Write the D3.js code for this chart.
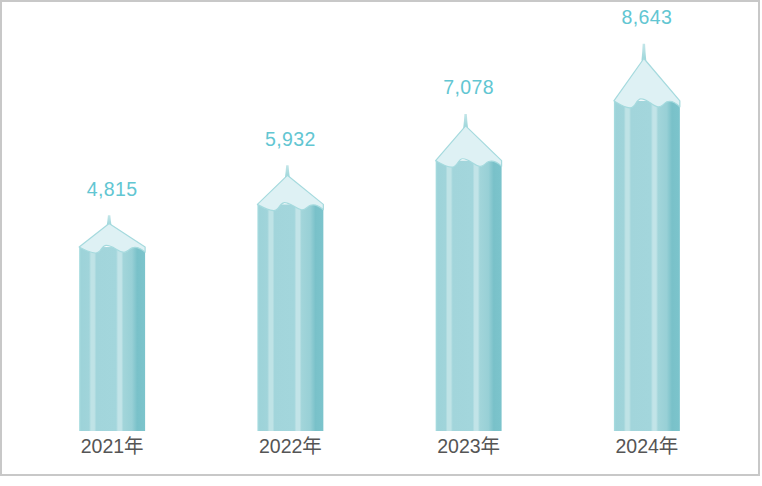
<!DOCTYPE html>
<html>
<head>
<meta charset="utf-8">
<script src="https://cdn.jsdelivr.net/npm/d3@7"></script>
<style>
html, body { margin: 0; padding: 0; background: #fff; }
svg { display: block; }
text { font-family: "Liberation Sans", "Noto Sans CJK SC", sans-serif; }
</style>
</head>
<body>
<div class="chart"></div>
<script>
var years = ["2021年", "2022年", "2023年", "2024年"],
    values = [4815, 5932, 7078, 8643];

var w = 762,
    h = 486,
    base = 431;

var x = d3.scaleBand().domain(years).range([23, 736]).paddingInner(0.63).paddingOuter(0.315),
    y = d3.scaleLinear().domain([0, 10000]).range([base, 49]);

var svg = d3.select(".chart").append("svg")
    .attr("width", w)
    .attr("height", h);

svg.append("rect")
    .attr("x", 1).attr("y", 1)
    .attr("width", 758).attr("height", 474)
    .attr("fill", "#fff")
    .attr("stroke", "#c8c8c8")
    .attr("stroke-width", 2);

// body of the pencil: soft stripes across the width
var defs = svg.append("defs");
var grad = defs.append("linearGradient").attr("id", "body");
[[0, "#a8dde0"], [0.03, "#9dd3d9"], [0.15, "#a0d4da"], [0.18, "#bfe3e6"], [0.23, "#bfe3e6"], [0.26, "#a2d5db"],
 [0.56, "#a3d6dc"], [0.59, "#c2e4e8"], [0.64, "#c2e4e8"], [0.67, "#a2d5da"], [0.8, "#98d0d6"], [0.88, "#79c1c9"], [1, "#7cc4cc"]]
  .forEach(function(s) { grad.append("stop").attr("offset", s[0]).attr("stop-color", s[1]); });

var spike = defs.append("linearGradient").attr("id", "spike").attr("x2", 0).attr("y2", 1);
spike.append("stop").attr("offset", 0).attr("stop-color", "#c4e6e9");
spike.append("stop").attr("offset", 1).attr("stop-color", "#9dd6da");

var bars = svg.selectAll(".bar").data(values).enter().append("g")
    .attr("class", "bar")
    .attr("transform", function(d, i) { return "translate(" + x(years[i]) + ",0)"; });

var bw = x.bandwidth();

bars.append("rect")
    .attr("x", 0)
    .attr("width", bw)
    .attr("y", function(d) { return y(d); })
    .attr("height", function(d) { return base - y(d); })
    .attr("fill", "url(#body)");

// the roof and spike grow with the value, apex sits a little left of centre
var apex = bw / 2 - 3;
function roofH(d) { return d * 0.0049; }
function spikeH(d) { return d * 0.0017; }

bars.append("path")
    .attr("d", function(d) {
      var t = y(d), a = t - roofH(d), s = a - spikeH(d), m = apex;
      return "M" + (m - 2.4) + "," + (a + 2) + "Q" + (m - 1.5) + "," + ((a + s) / 2) + " " + (m - 1.2) + "," + s +
        "L" + (m + 1.2) + "," + s + "Q" + (m + 1.5) + "," + ((a + s) / 2) + " " + (m + 2.4) + "," + (a + 2) + "Z";
    })
    .attr("fill", "url(#spike)");

bars.append("path")
    .attr("d", function(d) {
      var t = y(d), a = t - roofH(d), k = 0.65 + 0.35 * d / 8643;
      function wy(v) { return t + v * k; }
      return "M0," + t + "L" + apex + "," + a + "L" + bw + "," + t +
        "L" + bw + "," + wy(6) +
        "C" + (bw - 4) + "," + wy(2) + " " + (bw - 8) + "," + wy(-1) + " " + (bw - 13) + "," + wy(1) +
        "C" + (bw - 17) + "," + wy(3) + " " + (bw - 18) + "," + wy(7) + " " + (bw - 22) + "," + wy(6) +
        "C" + (bw - 28) + "," + wy(5) + " " + (bw - 32) + "," + wy(-2) + " " + 27 + "," + wy(-2) +
        "C" + 22 + "," + wy(-2) + " " + 22 + "," + wy(7.5) + " " + 16 + "," + wy(7) +
        "C" + 10 + "," + wy(6.5) + " " + 5 + "," + wy(3) + " 0," + t + "Z";
    })
    .attr("fill", "#def1f4")
    .attr("stroke", "#a5dade")
    .attr("stroke-width", 1.2)
    .attr("stroke-linejoin", "round");

bars.append("text")
    .attr("x", bw / 2)
    .attr("y", function(d) { return y(d) - roofH(d) - spikeH(d) - 19.5; })
    .attr("text-anchor", "middle")
    .attr("font-size", 19.5)
    .attr("letter-spacing", 0.4)
    .attr("fill", "#62c6d2")
    .text(function(d) { return d3.format(",")(d); });

var axis = svg.append("g")
    .attr("transform", "translate(0," + base + ")")
    .call(d3.axisBottom(x).tickSize(0).tickPadding(8));
axis.select(".domain").remove();
axis.selectAll("text")
    .attr("font-size", 19.5)
    .attr("font-family", "'Liberation Sans', 'Noto Sans CJK SC', sans-serif")
    .attr("fill", "#555");
</script>
</body>
</html>
